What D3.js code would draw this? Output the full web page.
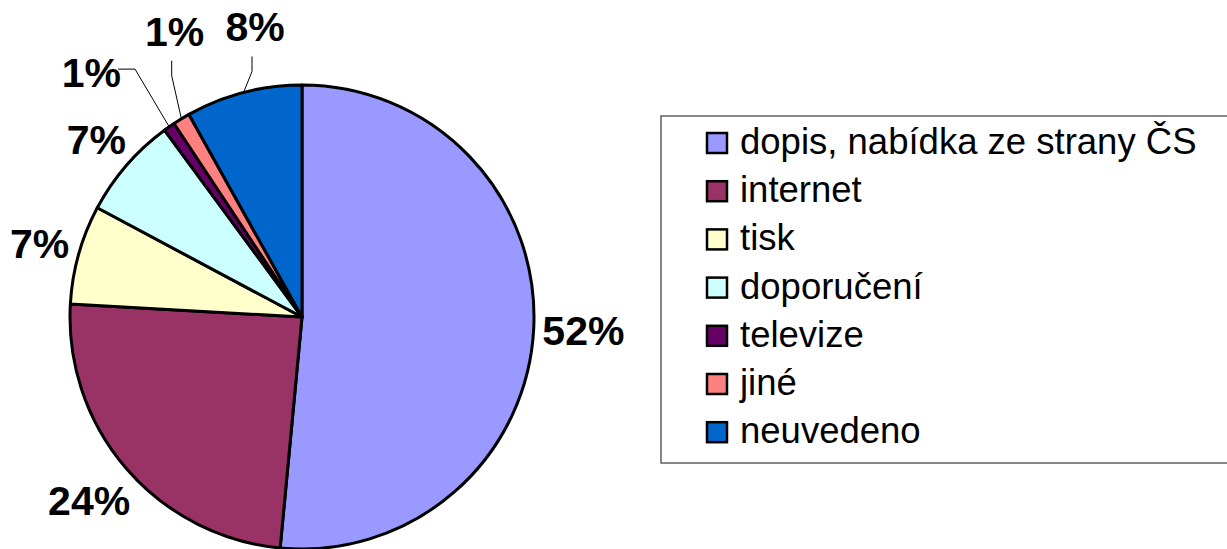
<!DOCTYPE html>
<html>
<head>
<meta charset="utf-8">
<script src="https://cdn.jsdelivr.net/npm/d3@7"></script>
<style>
  body { margin: 0; background: #fff; }
  svg { display: block; font-family: "Liberation Sans", Arial, sans-serif; }
</style>
</head>
<body>
<div id="chart"></div>
<script>
const categories = ["dopis, nabídka ze strany ČS", "internet", "tisk", "doporučení", "televize", "jiné", "neuvedeno"];
const values = [51.5, 24.4, 6.9, 7.1, 0.8, 1.2, 8.1];
const colors = ["#9999FF", "#993366", "#FFFFCC", "#CCFFFF", "#660066", "#FF8080", "#0066CC"];

const w = 1227;
const h = 549;
const cx = 302, cy = 317, r = 232;

// labels the author dragged away from the slice, polar (deg from top, distance) + leader style
const moved = {
  4: { angle: 319.3, dist: 323, elbow: "h" },
  5: { angle: 336, dist: 313, elbow: "v" },
  6: { angle: 350.8, dist: 294, elbow: "v" }
};

const svg = d3.select("#chart").append("svg")
  .attr("width", w)
  .attr("height", h);

const pie = d3.pie().sort(null).value(d => d);
const arcs = pie(values);
const arc = d3.arc().innerRadius(0).outerRadius(r);

const g = svg.append("g").attr("transform", `translate(${cx},${cy})`);

g.selectAll("path")
  .data(arcs)
  .enter()
  .append("path")
  .attr("d", arc)
  .attr("fill", (d, i) => colors[i])
  .attr("stroke", "#000")
  .attr("stroke-width", 3)
  .attr("stroke-linejoin", "round");

const polar = (a, d) => [d * Math.sin(a), -d * Math.cos(a)];
const fmt = v => Math.round(v) + "%";

const fontSize = 41;
const capH = fontSize * 0.716;

arcs.forEach((d, i) => {
  const mid = (d.startAngle + d.endAngle) / 2;
  const txt = fmt(d.value);
  const t = g.append("text")
    .attr("text-anchor", "middle")
    .attr("font-size", fontSize)
    .attr("font-weight", "bold")
    .attr("fill", "#000")
    .text(txt);
  const tw = t.node().getComputedTextLength();
  let x, y;
  if (moved[i]) {
    [x, y] = polar(moved[i].angle * Math.PI / 180, moved[i].dist);
  } else {
    const ux = Math.sin(mid), uy = -Math.cos(mid);
    const support = tw / 2 * Math.abs(ux) + capH / 2 * Math.abs(uy);
    [x, y] = polar(mid, r + 8 + support);
  }
  t.attr("x", x).attr("y", y + capH / 2);

  if (moved[i]) {
    const end = polar(mid, r);
    let start, elbow;
    if (moved[i].elbow === "h") {
      start = [x + tw / 2 - 3, y - 3];
      elbow = [start[0] + 17, start[1]];
    } else {
      start = [x - 3, y + capH / 2 + 15];
      elbow = [start[0], start[1] + 15];
    }
    g.append("path")
      .attr("d", d3.line()([start, elbow, end]))
      .attr("fill", "none")
      .attr("stroke", "#000")
      .attr("stroke-width", 1);
  }
});

// legend
const legend = svg.append("g").attr("transform", "translate(661,116)");
legend.append("rect")
  .attr("x", 0).attr("y", 0)
  .attr("width", 600).attr("height", 347)
  .attr("fill", "#fff")
  .attr("stroke", "#606060")
  .attr("stroke-width", 1.5);

const item = legend.selectAll("g.item")
  .data(categories)
  .enter()
  .append("g")
  .attr("class", "item")
  .attr("transform", (d, i) => `translate(0,${27 + i * 48.2})`);

item.append("rect")
  .attr("x", 46).attr("y", -10)
  .attr("width", 20).attr("height", 20)
  .attr("fill", (d, i) => colors[i])
  .attr("stroke", "#000")
  .attr("stroke-width", 2.5);

item.append("text")
  .attr("x", 79)
  .attr("y", 11)
  .attr("font-size", 36.5)
  .attr("fill", "#000")
  .text(d => d);
</script>
</body>
</html>
